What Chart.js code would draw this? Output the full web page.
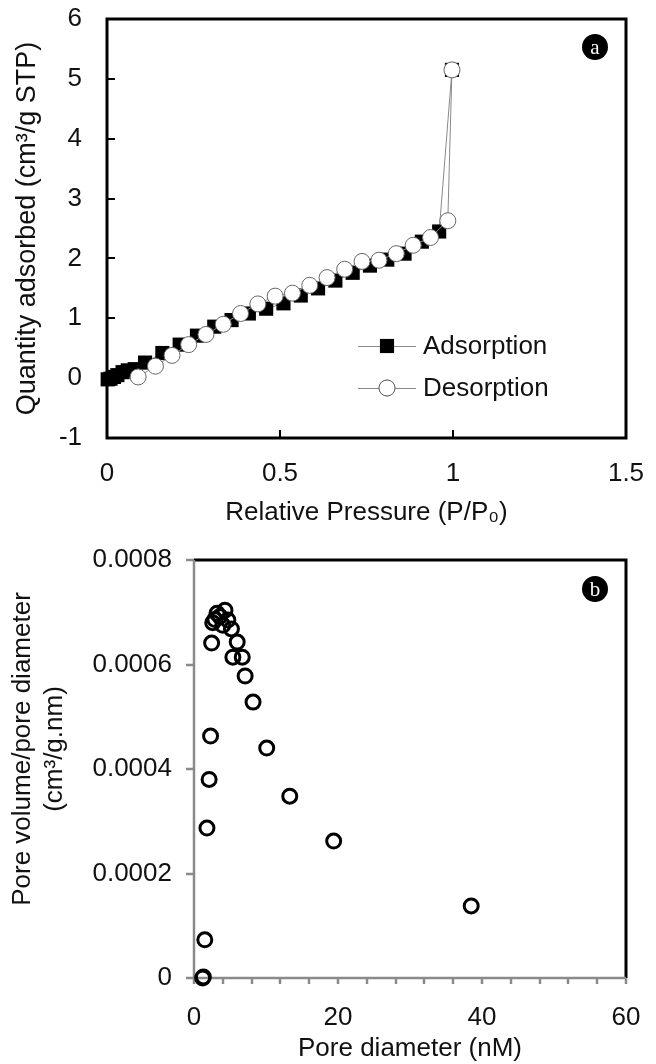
<!DOCTYPE html>
<html>
<head>
<meta charset="utf-8">
<script src="https://cdn.jsdelivr.net/npm/chart.js@4.4.1/dist/chart.umd.min.js"></script>
<style>
  html, body { margin: 0; padding: 0; background: #fff; }
  #wrap { width: 656px; height: 1064px; }
  canvas { display: block; }
</style>
</head>
<body>
<div id="wrap">
  <canvas id="chartIso" width="656" height="540"></canvas>
  <canvas id="chartPore" width="656" height="524"></canvas>
</div>
<script>
// (a) nitrogen isotherm
const adsP = [0.002, 0.01, 0.02, 0.03, 0.045, 0.06, 0.08, 0.11, 0.16, 0.21, 0.26, 0.31, 0.36, 0.41, 0.46, 0.51, 0.56, 0.61, 0.66, 0.71, 0.76, 0.81, 0.86, 0.91, 0.96, 0.997];
const adsQ = [-0.02, -0.01, 0.02, 0.05, 0.1, 0.13, 0.15, 0.26, 0.42, 0.56, 0.71, 0.86, 0.97, 1.08, 1.16, 1.25, 1.38, 1.5, 1.63, 1.76, 1.88, 1.98, 2.08, 2.28, 2.45, 5.15];
const desP = [0.997, 0.985, 0.935, 0.885, 0.836, 0.786, 0.737, 0.687, 0.636, 0.586, 0.536, 0.486, 0.436, 0.386, 0.336, 0.286, 0.236, 0.188, 0.14, 0.09];
const desQ = [5.15, 2.63, 2.35, 2.22, 2.08, 1.97, 1.95, 1.82, 1.68, 1.55, 1.42, 1.37, 1.24, 1.08, 0.9, 0.73, 0.56, 0.38, 0.2, 0.02];
const isoXTicks = [0, 0.5, 1, 1.5];
const isoYTicks = [-1, 0, 1, 2, 3, 4, 5, 6];

// (b) pore size distribution
const poreD = [38.5, 19.4, 13.3, 10.1, 8.2, 7.1, 6.7, 6.0, 5.4, 5.2, 4.7, 4.3, 4.0, 3.6, 3.2, 2.9, 2.6, 2.45, 2.3, 2.1, 1.8, 1.5, 1.3, 1.2];
const poreV = [0.000138, 0.000262, 0.000348, 0.00044, 0.000528, 0.000578, 0.000614, 0.000643, 0.000614, 0.000668, 0.000685, 0.000704, 0.000675, 0.000692, 0.000698, 0.000686, 0.00068, 0.000641, 0.000463, 0.00038, 0.000287, 0.000073, 0.000002, 0];
const poreXTicks = [0, 20, 40, 60];
const poreYTicks = [0, 0.0002, 0.0004, 0.0006, 0.0008];

const FONT = "'Liberation Sans', Arial, sans-serif";
Chart.defaults.font.family = FONT;
Chart.defaults.font.size = 26;
Chart.defaults.color = '#111';

function toPoints(xs, ys) {
  return xs.map((x, i) => ({ x: x, y: ys[i] }));
}

// fixed axis boxes, no extra room for overhanging labels
function fixBox(size) {
  return s => {
    if (s.isHorizontal()) s.height = size; else s.width = size;
    s.paddingTop = s.paddingBottom = s.paddingLeft = s.paddingRight = 0;
  };
}

// frame, inside/outside ticks and the little letter badge
const framePlugin = {
  id: 'frame',
  beforeDatasetsDraw(chart, args, o) {
    const { ctx, chartArea: a } = chart;
    const xs = chart.scales.x, ys = chart.scales.y;
    ctx.save();
    if (o.style === 'box') {
      ctx.strokeStyle = '#000';
      ctx.lineWidth = 3;
      ctx.strokeRect(a.left, a.top, a.right - a.left, a.bottom - a.top);
      ctx.lineWidth = 2;
      ctx.beginPath();
      isoYTicks.slice(1, -1).forEach(v => {
        const y = Math.round(ys.getPixelForValue(v));
        ctx.moveTo(a.left, y); ctx.lineTo(a.left + 8, y);
      });
      isoXTicks.slice(1, -1).forEach(v => {
        const x = Math.round(xs.getPixelForValue(v));
        ctx.moveTo(x, a.bottom); ctx.lineTo(x, a.bottom - 8);
      });
      ctx.stroke();
    } else {
      ctx.strokeStyle = '#000';
      ctx.lineWidth = 3;
      ctx.beginPath();
      ctx.moveTo(a.left, a.top); ctx.lineTo(a.right, a.top); ctx.lineTo(a.right, a.bottom);
      ctx.stroke();
      ctx.strokeStyle = '#8a8a8a';
      ctx.lineWidth = 2.5;
      ctx.beginPath();
      ctx.moveTo(a.left, a.top); ctx.lineTo(a.left, a.bottom); ctx.lineTo(a.right, a.bottom);
      poreYTicks.forEach(v => {
        const y = Math.round(ys.getPixelForValue(v));
        ctx.moveTo(a.left - 8, y); ctx.lineTo(a.left, y);
      });
      for (let v = 0; v <= 60; v += 4) {
        const x = Math.round(xs.getPixelForValue(v));
        ctx.moveTo(x, a.bottom); ctx.lineTo(x, a.bottom + 6);
      }
      ctx.stroke();
    }
    ctx.restore();
  },
  afterDraw(chart, args, o) {
    const ctx = chart.ctx;
    ctx.save();
    ctx.fillStyle = '#000';
    ctx.beginPath();
    ctx.arc(o.badgeX, o.badgeY, 13, 0, Math.PI * 2);
    ctx.fill();
    ctx.fillStyle = '#fff';
    ctx.font = "21px 'Liberation Serif', 'DejaVu Serif', serif";
    ctx.textAlign = 'center';
    ctx.textBaseline = 'middle';
    ctx.fillText(o.letter, o.badgeX, o.badgeY + 1);
    ctx.restore();
  }
};

// legend with line-marker-line keys, as in the figure
const isoLegend = {
  id: 'isoLegend',
  afterDraw(chart) {
    const ctx = chart.ctx;
    const rows = [
      { label: 'Adsorption', y: 346, ds: chart.data.datasets[1] },
      { label: 'Desorption', y: 388, ds: chart.data.datasets[0] }
    ];
    ctx.save();
    rows.forEach(r => {
      ctx.strokeStyle = '#888';
      ctx.lineWidth = 1;
      ctx.beginPath();
      ctx.moveTo(358, r.y + 0.5); ctx.lineTo(416, r.y + 0.5);
      ctx.stroke();
      Chart.helpers.drawPoint(ctx, {
        pointStyle: r.ds.pointStyle, radius: r.ds.pointRadius,
        borderWidth: r.ds.pointBorderWidth, rotation: 0
      }, 387, r.y);
      ctx.fillStyle = r.ds.pointBackgroundColor;
      ctx.strokeStyle = r.ds.pointBorderColor;
      ctx.lineWidth = r.ds.pointBorderWidth;
      ctx.fill();
      if (r.ds.pointBorderWidth) ctx.stroke();
      ctx.fillStyle = '#111';
      ctx.font = '26px ' + FONT;
      ctx.textAlign = 'left';
      ctx.textBaseline = 'middle';
      ctx.fillText(r.label, 423, r.y + 1);
    });
    ctx.restore();
  }
};

// two-line y title of panel b
const poreTitle = {
  id: 'poreTitle',
  afterDraw(chart) {
    const ctx = chart.ctx;
    ctx.save();
    ctx.translate(23, 209);
    ctx.rotate(-Math.PI / 2);
    ctx.fillStyle = '#111';
    ctx.font = '26px ' + FONT;
    ctx.textAlign = 'center';
    ctx.textBaseline = 'middle';
    ctx.fillText('Pore volume/pore diameter', 0, 0);
    ctx.fillText('(cm\u00b3/g.nm)', 0, 32);
    ctx.restore();
  }
};

new Chart(document.getElementById('chartIso'), {
  type: 'scatter',
  data: {
    datasets: [
      {
        label: 'Desorption',
        data: toPoints(desP, desQ),
        showLine: true,
        borderColor: '#888',
        borderWidth: 1,
        pointStyle: 'circle',
        pointRadius: 8,
        pointBackgroundColor: '#fff',
        pointBorderColor: '#666',
        pointBorderWidth: 1,
        clip: false,
        order: 1
      },
      {
        label: 'Adsorption',
        data: toPoints(adsP, adsQ),
        showLine: true,
        borderColor: '#888',
        borderWidth: 1,
        pointStyle: 'rect',
        pointRadius: 10,
        pointBackgroundColor: '#000',
        pointBorderColor: '#000',
        pointBorderWidth: 0,
        clip: false,
        order: 2
      }
    ]
  },
  options: {
    responsive: false,
    animation: false,
    layout: { padding: { top: 19, right: 30, left: 0, bottom: 0 } },
    plugins: {
      legend: { display: false },
      tooltip: { enabled: false },
      frame: { style: 'box', badgeX: 595, badgeY: 47, letter: 'a' }
    },
    scales: {
      x: {
        type: 'linear', min: 0, max: 1.5,
        afterBuildTicks: s => { s.ticks = isoXTicks.map(v => ({ value: v })); },
        afterFit: fixBox(102),
        grid: { display: false, drawTicks: false },
        border: { display: false },
        ticks: { padding: 20, maxRotation: 0, autoSkip: false, callback: v => String(v) },
        title: {
          display: true, text: 'Relative Pressure (P/P\u2080)',
          font: { size: 26, lineHeight: 1.2 }, padding: { top: 0, bottom: 12 }
        }
      },
      y: {
        type: 'linear', min: -1, max: 6,
        afterBuildTicks: s => { s.ticks = isoYTicks.map(v => ({ value: v })); },
        afterFit: fixBox(107),
        grid: { display: false, drawTicks: false },
        border: { display: false },
        ticks: { padding: 25, autoSkip: false, callback: v => String(v) },
        title: {
          display: true, text: 'Quantity adsorbed (cm\u00b3/g STP)',
          font: { size: 27, lineHeight: 1.2 }, padding: { top: 11, bottom: 0 }
        }
      }
    }
  },
  plugins: [framePlugin, isoLegend]
});

new Chart(document.getElementById('chartPore'), {
  type: 'scatter',
  data: {
    datasets: [
      {
        label: 'Pore volume',
        data: toPoints(poreD, poreV),
        pointStyle: 'circle',
        pointRadius: 7,
        pointBackgroundColor: 'rgba(255,255,255,0)',
        pointBorderColor: '#000',
        pointBorderWidth: 3,
        clip: false
      }
    ]
  },
  options: {
    responsive: false,
    animation: false,
    layout: { padding: { top: 20, right: 30, left: 0, bottom: 0 } },
    plugins: {
      legend: { display: false },
      tooltip: { enabled: false },
      frame: { style: 'axes', badgeX: 595, badgeY: 49, letter: 'b' }
    },
    scales: {
      x: {
        type: 'linear', min: 0, max: 60,
        afterBuildTicks: s => { s.ticks = poreXTicks.map(v => ({ value: v })); },
        afterFit: fixBox(86),
        grid: { display: false, drawTicks: false },
        border: { display: false },
        ticks: { padding: 24, maxRotation: 0, autoSkip: false, callback: v => String(v) },
        title: {
          display: true, text: 'Pore diameter (nM)',
          font: { size: 26, lineHeight: 1.2 }, padding: { top: 0, bottom: 0 }
        }
      },
      y: {
        type: 'linear', min: 0, max: 0.0008,
        afterBuildTicks: s => { s.ticks = poreYTicks.map(v => ({ value: v })); },
        afterFit: fixBox(194),
        grid: { display: false, drawTicks: false },
        border: { display: false },
        ticks: { padding: 22, autoSkip: false, callback: v => String(v) }
      }
    }
  },
  plugins: [framePlugin, poreTitle]
});
</script>
</body>
</html>
